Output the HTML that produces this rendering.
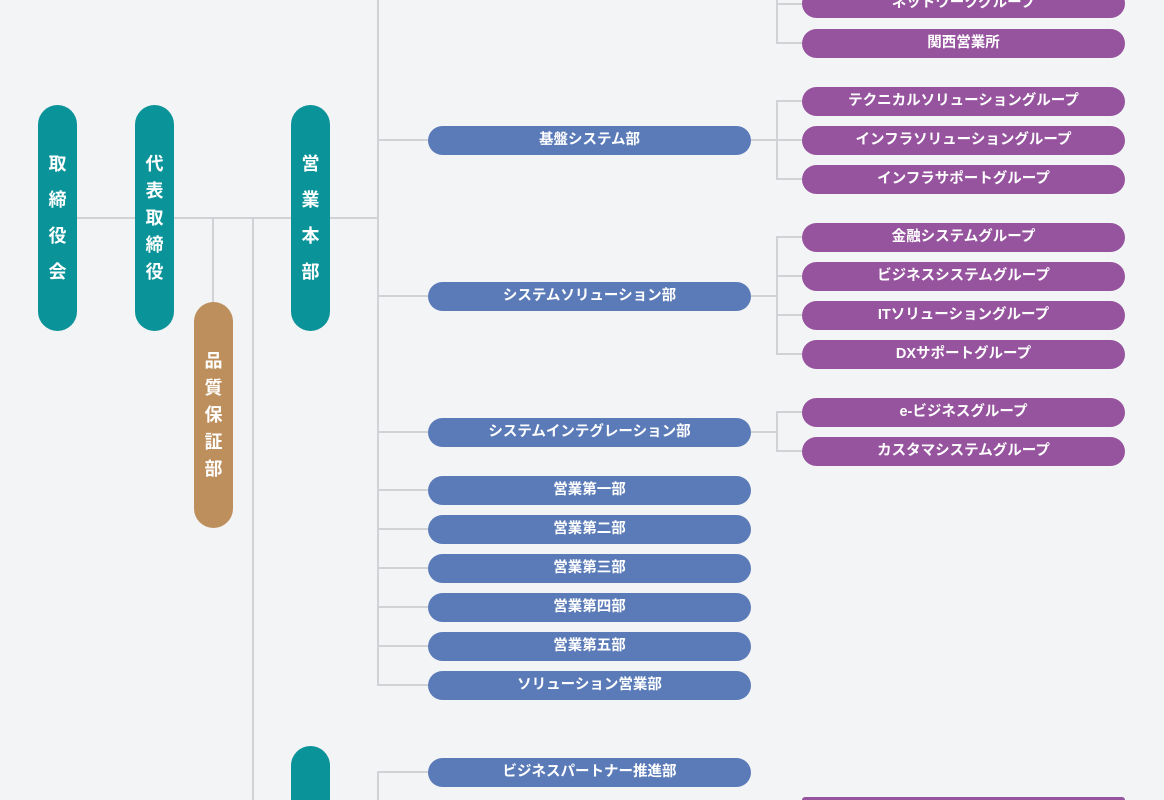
<!DOCTYPE html>
<html style="width:1164px;height:800px;overflow:hidden"><head><meta charset="utf-8"><style>
body{margin:0;width:1164px;height:800px;overflow:hidden;background:#f3f4f6;position:relative;font-family:"Liberation Sans","Noto Sans CJK JP",sans-serif;}
.l{position:absolute;background:#d0d2d5;}
.h{height:2px}.v{width:2px}
.p{position:absolute;color:#fff;font-weight:bold;font-size:14.5px;text-align:center;border-radius:15px;height:29px;line-height:29px;}
.b{left:428px;width:323px;background:#5b7bb8;}
.u{left:802px;width:323px;background:#96549e;}
.vt{position:absolute;width:39px;border-radius:20px;color:#fff;font-weight:bold;font-size:18px;display:flex;flex-direction:column;justify-content:center;align-items:center;line-height:27px;}
.w{line-height:36px}
.t{background:#0a9399}
</style></head><body>
<div class="l h" style="left:77px;top:217px;width:302px"></div>
<div class="l v" style="left:212px;top:217px;height:86px"></div>
<div class="l v" style="left:252px;top:217px;height:583px"></div>
<div class="l v" style="left:377px;top:0;height:686px"></div>
<div class="l v" style="left:377px;top:771px;height:29px"></div>
<div class="l h" style="left:377px;top:139px;width:51px"></div>
<div class="l h" style="left:377px;top:295px;width:51px"></div>
<div class="l h" style="left:377px;top:431px;width:51px"></div>
<div class="l h" style="left:377px;top:489px;width:51px"></div>
<div class="l h" style="left:377px;top:528px;width:51px"></div>
<div class="l h" style="left:377px;top:567px;width:51px"></div>
<div class="l h" style="left:377px;top:606px;width:51px"></div>
<div class="l h" style="left:377px;top:645px;width:51px"></div>
<div class="l h" style="left:377px;top:684px;width:51px"></div>
<div class="l h" style="left:377px;top:771px;width:51px"></div>
<div class="l v" style="left:776px;top:0;height:44px"></div>
<div class="l h" style="left:776px;top:3px;width:26px"></div>
<div class="l h" style="left:776px;top:42px;width:26px"></div>
<div class="l h" style="left:751px;top:139px;width:26px"></div>
<div class="l v" style="left:776px;top:100px;height:80px"></div>
<div class="l h" style="left:776px;top:100px;width:26px"></div>
<div class="l h" style="left:776px;top:139px;width:26px"></div>
<div class="l h" style="left:776px;top:178px;width:26px"></div>
<div class="l h" style="left:751px;top:295px;width:26px"></div>
<div class="l v" style="left:776px;top:236px;height:119px"></div>
<div class="l h" style="left:776px;top:236px;width:26px"></div>
<div class="l h" style="left:776px;top:275px;width:26px"></div>
<div class="l h" style="left:776px;top:314px;width:26px"></div>
<div class="l h" style="left:776px;top:353px;width:26px"></div>
<div class="l h" style="left:751px;top:431px;width:26px"></div>
<div class="l v" style="left:776px;top:411px;height:41px"></div>
<div class="l h" style="left:776px;top:411px;width:26px"></div>
<div class="l h" style="left:776px;top:450px;width:26px"></div>

<div class="vt t w" style="left:38px;top:105px;height:226px"><span>取</span><span>締</span><span>役</span><span>会</span></div>
<div class="vt t" style="left:135px;top:105px;height:226px"><span>代</span><span>表</span><span>取</span><span>締</span><span>役</span></div>
<div class="vt t w" style="left:291px;top:105px;height:226px"><span>営</span><span>業</span><span>本</span><span>部</span></div>
<div class="vt" style="left:194px;top:302px;height:226px;background:#bd8f5c"><span>品</span><span>質</span><span>保</span><span>証</span><span>部</span></div>
<div class="vt t" style="left:291px;top:746px;height:54px;border-radius:20px 20px 0 0"></div>

<div class="p b" style="top:126px">基盤システム部</div>
<div class="p b" style="top:282px">システムソリューション部</div>
<div class="p b" style="top:418px">システムインテグレーション部</div>
<div class="p b" style="top:476px">営業第一部</div>
<div class="p b" style="top:515px">営業第二部</div>
<div class="p b" style="top:554px">営業第三部</div>
<div class="p b" style="top:593px">営業第四部</div>
<div class="p b" style="top:632px">営業第五部</div>
<div class="p b" style="top:671px">ソリューション営業部</div>
<div class="p b" style="top:758px">ビジネスパートナー推進部</div>

<div class="p u" style="top:-11px">ネットワークグループ</div>
<div class="p u" style="top:29px">関西営業所</div>
<div class="p u" style="top:87px">テクニカルソリューショングループ</div>
<div class="p u" style="top:126px">インフラソリューショングループ</div>
<div class="p u" style="top:165px">インフラサポートグループ</div>
<div class="p u" style="top:223px">金融システムグループ</div>
<div class="p u" style="top:262px">ビジネスシステムグループ</div>
<div class="p u" style="top:301px">ITソリューショングループ</div>
<div class="p u" style="top:340px">DXサポートグループ</div>
<div class="p u" style="top:398px">e-ビジネスグループ</div>
<div class="p u" style="top:437px">カスタマシステムグループ</div>
<div class="p u" style="top:797px;height:3px;border-radius:15px 15px 0 0"></div>
</body></html>
